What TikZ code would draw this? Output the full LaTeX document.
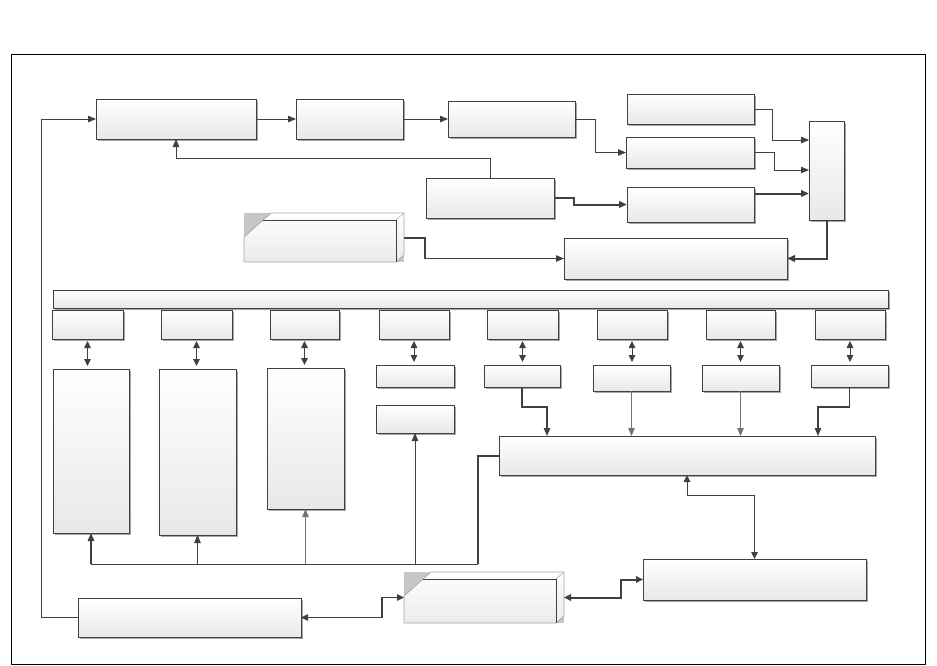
\documentclass[tikz,border=0pt]{standalone}
\usetikzlibrary{arrows.meta,shadows,calc}
\definecolor{lc}{HTML}{404040}
\tikzset{
  x=1pt,y=-1pt,
  bx/.style={draw=lc, line width=0.8pt, top color=white, bottom color=black!9,
    inner sep=0pt, outer sep=0pt,
    drop shadow={shadow xshift=1.6pt, shadow yshift=-1.6pt, fill=black!35, opacity=1}},
  conn/.style={draw=lc, line width=0.9pt},
  tip/.style={-{Triangle[length=8pt,width=6.5pt]}},
  arr/.style={conn, tip},
  biarr/.style={conn, {Triangle[length=7pt,width=6.5pt]}-{Triangle[length=7pt,width=6.5pt]}},
  heavy/.style={line width=2pt},
  mid/.style={line width=1.3pt},
  light/.style={draw=black!55},
}
\newcommand{\mybx}[5]{\node[bx, anchor=north west, minimum width={#4-#2}, minimum height={#5-#3}] (#1) at (#2,#3) {};}
\newcommand{\mythreed}[5]{%
  \node[anchor=north west, inner sep=0pt, outer sep=0pt, minimum width={#4-#2}, minimum height={#5-#3}] (#1) at (#2,#3) {};
  \fill[black!22] (#1.north west) rectangle (#1.south east);
  \path[top color=white, bottom color=black!8, draw=black!35, line width=0.7pt]
    ($(#1.north west)+(0,24)$) -- ($(#1.north west)+(27,0)$) -- (#1.north east)
    -- ($(#1.south east)+(0,-7)$) -- ($(#1.south east)+(-8,0)$) -- (#1.south west) -- cycle;
  \draw[black!35, line width=0.5pt] ($(#1.north east)+(-8,7)$) -- (#1.north east);
  \draw[lc, line width=0.9pt] ($(#1.north west)+(19,7)$) -- ($(#1.north east)+(-8,7)$) -- ($(#1.south east)+(-8,0)$);
}
\begin{document}
\begin{tikzpicture}
\useasboundingbox (0,0) rectangle (937,665);
\fill[white] (0,0) rectangle (937,665);
\draw[line width=1pt, black] (11,54) rectangle (925,664);

% top part
\mybx{A}{96}{99}{256}{139}
\mybx{B}{296}{99}{403}{139}
\mybx{C}{448}{101}{575}{137}
\mybx{Da}{627}{94}{754}{124}
\mybx{Db}{626}{137}{754}{168}
\mybx{Dc}{627}{187}{754}{222}
\mybx{E}{809}{121}{844}{220}
\mybx{F}{426}{178}{554}{218}
\mybx{G}{564}{238}{787}{279}
\mythreed{H}{244}{213}{404}{262}

% bus bar
\mybx{L}{53}{290}{888}{308}

% small boxes row
\mybx{S1}{52}{310}{123}{339}
\mybx{S2}{161}{310}{232}{339}
\mybx{S3}{270}{310}{339}{339}
\mybx{S4}{379}{310}{449}{339}
\mybx{S5}{487}{310}{558}{339}
\mybx{S6}{597}{310}{667}{339}
\mybx{S7}{706}{310}{775}{339}
\mybx{S8}{815}{310}{885}{339}

% second row
\mybx{T1}{53}{369}{129}{533}
\mybx{T2}{159}{369}{236}{535}
\mybx{T3}{267}{368}{344}{509}
\mybx{U4}{376}{365}{454}{387}
\mybx{U4b}{376}{405}{454}{433}
\mybx{U5}{484}{365}{560}{387}
\mybx{U6}{593}{365}{670}{391}
\mybx{U7}{702}{365}{779}{391}
\mybx{U8}{811}{365}{888}{387}

\mybx{M}{499}{436}{875}{475}
\mybx{J}{643}{559}{866}{600}
\mybx{K}{78}{598}{301}{637}
\mythreed{I}{404}{572}{564}{623}

% top connectors
\draw[arr] (A.east) -- (B.west);
\draw[arr] (B.east) -- (C.west);
\draw[arr] (C.east) -- ++(20,0) |- (Db.west);
\draw[arr] (Da.east) -- ++(18,0) |- ([yshift=-19pt]E.north west);
\draw[arr] (Db.east) -- ++(20,0) |- ([yshift=-49pt]E.north west);
\draw[arr, heavy] ([yshift=11pt]Dc.east) coordinate (dco) -- (dco -| E.west);
\draw[arr, heavy] (F.east) -- ++(20,0) |- (Dc.west);
\draw[arr] (F.north) -- ++(0,-20) -| (A.south);
\draw[arr, heavy] (E.south) |- (G.east);
\draw[conn, heavy] (H.east) -- ++(21,0) coordinate (hc) -- (hc |- G.west);
\draw[arr] (hc |- G.west) -- (G.west);

% vertical double arrows
\foreach \s/\t in {S1/T1,S2/T2,S3/T3,S4/U4,S5/U5,S6/U6,S7/U7,S8/U8}{
  \draw[biarr, shorten <=2pt, shorten >=3pt] (\s.south) -- (\s.south |- \t.north);
}

% second-row to M
\draw[arr, mid] (U5.south) -- ++(0,20) -| ([xshift=48pt]M.north west);
\draw[arr, light] (U6.south) -- (U6.south |- M.north);
\draw[arr, light] (U7.south) -- (U7.south |- M.north);
\draw[arr, mid] (U8.south) -- ++(0,20) -| ([xshift=-57pt]M.north east);

% M to lower bus
\coordinate (bl) at (91,564);
\draw[conn, heavy] (M.west) -- ++(-21,0) coordinate (mw) -- (mw |- bl);
\draw[conn] (mw |- bl) -- (bl);
\draw[arr, mid] (bl) -- (T1.south);
\draw[arr] (T2.south |- bl) -- (T2.south);
\draw[arr, light] (T3.south |- bl) -- (T3.south);
\draw[arr] (U4b.south |- bl) -- (U4b.south);

% M <-> J
\draw[biarr] (M.south) -- ++(0,20) -| (J.north);

% bottom connectors
\draw[biarr, heavy] (I.east) -- ++(57,0) |- (J.west);
\draw[biarr, mid] (K.east) -- ++(81,0) |- (I.west);
\draw[arr] (K.west) -- ++(-37,0) |- (A.west);
\end{tikzpicture}
\end{document}
